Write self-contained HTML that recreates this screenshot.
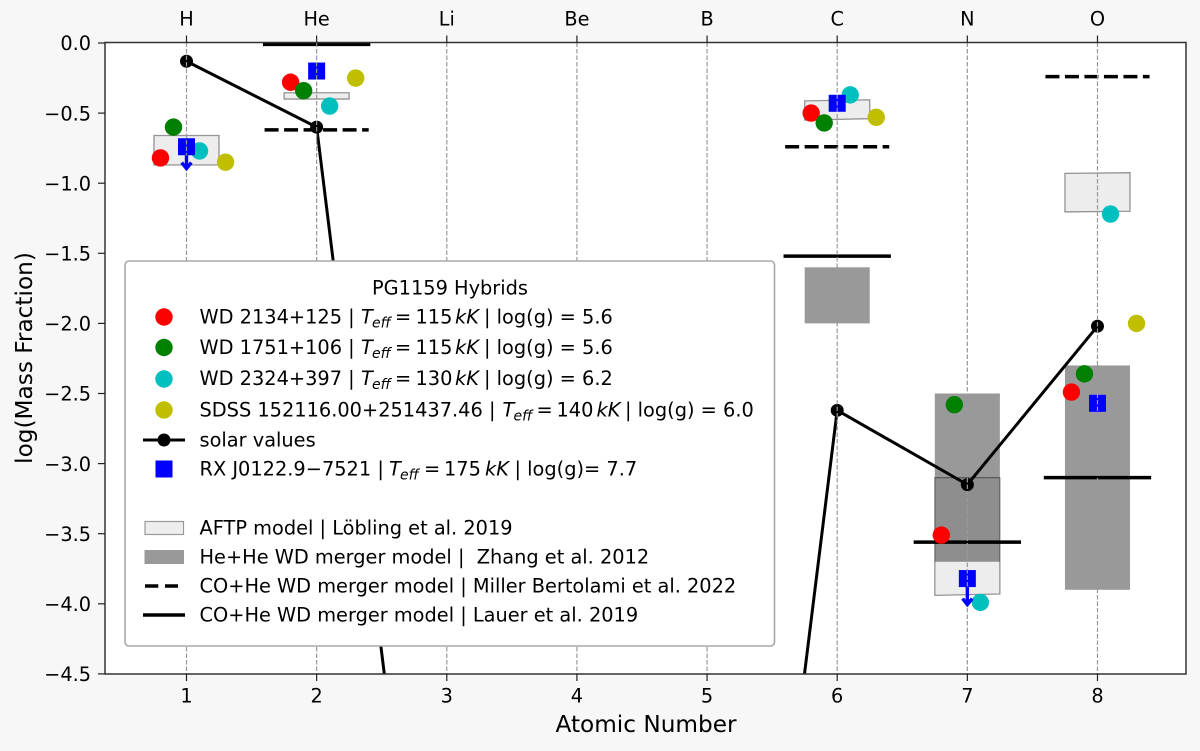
<!DOCTYPE html>
<html lang="en">
<head>
<meta charset="utf-8">
<title>PG1159 Hybrids abundance chart</title>
<style>
html,body{margin:0;padding:0;background:#f7f7f7;width:1200px;height:751px;overflow:hidden;}
svg{display:block;font-family:"DejaVu Sans","Liberation Sans",sans-serif;fill:#000;}
.tick{font-size:19.3px;}
.lg{font-size:19.35px;}
.it{font-style:italic;}
.sub{font-size:14px;font-style:italic;}
</style>
</head>
<body>
<svg id="chart" width="1200" height="751" viewBox="0 0 1200 751" xmlns="http://www.w3.org/2000/svg">
  <defs><clipPath id="plot-clip"><rect x="105" y="42.5" width="1081" height="631.5"/></clipPath></defs>
  <rect x="0" y="0" width="1200" height="751" fill="#f7f7f7"/>
  <rect x="105" y="42.5" width="1081" height="631.5" fill="#fff"/>
  <g id="marks" clip-path="url(#plot-clip)"></g>
  <g id="axes"></g>
  <text x="646" y="732" font-size="23.2" text-anchor="middle">Atomic Number</text>
  <text transform="translate(32 358) rotate(-90)" font-size="23.2" text-anchor="middle">log(Mass Fraction)</text>

  <g>
    <rect x="125" y="261" width="649.5" height="385" rx="4" fill="#fff" stroke="#a8a8a8" stroke-width="1.6"/>
    <text class="lg" x="450" y="294.5" text-anchor="middle">PG1159 Hybrids</text>

    <g>
      <circle cx="164" cy="317" r="8.7" fill="#f00"/>
      <text class="lg" x="199.5" y="323.5">WD 2134+125 |</text>
      <text class="lg it" x="361" y="323.5">T</text><text class="sub" x="372" y="327.5">eff</text>
      <text class="lg" x="395" y="323.5">=</text><text class="lg" x="415.5" y="323.5">115</text>
      <text class="lg it" x="455" y="323.5">kK</text><text class="lg" x="484" y="323.5">| log(g) = 5.6</text>
    </g>
    <g>
      <circle cx="164" cy="347.5" r="8.7" fill="#008000"/>
      <text class="lg" x="199.5" y="354">WD 1751+106 |</text>
      <text class="lg it" x="361" y="354">T</text><text class="sub" x="372" y="358">eff</text>
      <text class="lg" x="395" y="354">=</text><text class="lg" x="415.5" y="354">115</text>
      <text class="lg it" x="455" y="354">kK</text><text class="lg" x="484" y="354">| log(g) = 5.6</text>
    </g>
    <g>
      <circle cx="164" cy="379" r="8.7" fill="#00bfbf"/>
      <text class="lg" x="199.5" y="385">WD 2324+397 |</text>
      <text class="lg it" x="361" y="385">T</text><text class="sub" x="372" y="389">eff</text>
      <text class="lg" x="395" y="385">=</text><text class="lg" x="415.5" y="385">130</text>
      <text class="lg it" x="455" y="385">kK</text><text class="lg" x="484" y="385">| log(g) = 6.2</text>
    </g>
    <g>
      <circle cx="164" cy="410" r="8.7" fill="#bfbf00"/>
      <text class="lg" x="199.5" y="416.5">SDSS 152116.00+251437.46 |</text>
      <text class="lg it" x="502.5" y="416.5">T</text><text class="sub" x="513.5" y="420.5">eff</text>
      <text class="lg" x="536.5" y="416.5">=</text><text class="lg" x="556.5" y="416.5">140</text>
      <text class="lg it" x="596.5" y="416.5">kK</text><text class="lg" x="625" y="416.5">| log(g) = 6.0</text>
    </g>
    <g>
      <line x1="143" y1="440" x2="185" y2="440" stroke="#000" stroke-width="3"/>
      <circle cx="164" cy="440" r="6.5" fill="#000"/>
      <text class="lg" x="199.5" y="446.5">solar values</text>
    </g>
    <g>
      <rect x="155.5" y="460.5" width="17" height="17" fill="#00f"/>
      <text class="lg" x="199.5" y="475.5">RX J0122.9−7521 |</text>
      <text class="lg it" x="389" y="475.5">T</text><text class="sub" x="400" y="479.5">eff</text>
      <text class="lg" x="424" y="475.5">=</text><text class="lg" x="444" y="475.5">175</text>
      <text class="lg it" x="485" y="475.5">kK</text><text class="lg" x="514.5" y="475.5">| log(g)= 7.7</text>
    </g>
    <g>
      <rect x="145" y="521.5" width="38.5" height="13" fill="#eee" stroke="#999" stroke-width="1.2"/>
      <text class="lg" x="199.5" y="534.5">AFTP model | Löbling et al. 2019</text>
    </g>
    <g>
      <rect x="144.5" y="550" width="39.5" height="14" fill="#999"/>
      <text class="lg" x="199.5" y="563.5">He+He WD merger model |&#160; Zhang et al. 2012</text>
    </g>
    <g>
      <line x1="145" y1="586" x2="178" y2="586" stroke="#000" stroke-width="3.5" stroke-dasharray="13.3 6.7"/>
      <text class="lg" x="199.5" y="592.5">CO+He WD merger model | Miller Bertolami et al. 2022</text>
    </g>
    <g>
      <line x1="143" y1="615" x2="185" y2="615" stroke="#000" stroke-width="3.5"/>
      <text class="lg" x="199.5" y="621.5">CO+He WD merger model | Lauer et al. 2019</text>
    </g>
  </g>
</svg>
<script>
// ---- data ----
const atomicNumbers = [1, 2, 3, 4, 5, 6, 7, 8];
const elementLabels = ['H', 'He', 'Li', 'Be', 'B', 'C', 'N', 'O'];
const yTicks = [0, -0.5, -1, -1.5, -2, -2.5, -3, -3.5, -4, -4.5];
const yTickLabels = ['0.0', '−0.5', '−1.0', '−1.5', '−2.0', '−2.5', '−3.0', '−3.5', '−4.0', '−4.5'];

const solarValues = [-0.13, -0.6, -8.1, -9.8, -10.1, -2.62, -3.15, -2.02];

const redX = [0.8, 1.8, 5.8, 6.8, 7.8];
const redY = [-0.82, -0.28, -0.5, -3.51, -2.49];
const greenX = [0.9, 1.9, 5.9, 6.9, 7.9];
const greenY = [-0.6, -0.34, -0.57, -2.58, -2.36];
const cyanX = [1.1, 2.1, 6.1, 7.1, 8.1];
const cyanY = [-0.77, -0.45, -0.37, -3.99, -1.22];
const yellowX = [1.3, 2.3, 6.3, 8.3];
const yellowY = [-0.85, -0.25, -0.53, -2.0];
const blueX = [1, 2, 6, 7, 8];
const blueY = [-0.74, -0.2, -0.43, -3.82, -2.57];
const upperLimitX = [1, 7];
const upperLimitFrom = [-0.74, -3.82];
const upperLimitTo = [-0.91, -4.02];

const aftpZ = [1, 2, 6, 7, 8];
const aftpTopLeft = [-0.66, -0.355, -0.413, -3.1, -0.93];
const aftpTopRight = [-0.66, -0.355, -0.405, -3.1, -0.925];
const aftpBottomLeft = [-0.87, -0.4, -0.55, -3.94, -1.205];
const aftpBottomRight = [-0.87, -0.4, -0.54, -3.93, -1.2];

const mergerZ = [6, 7, 8];
const mergerTop = [-1.6, -2.5, -2.3];
const mergerBottom = [-2.0, -3.7, -3.9];

const millerZ = [2, 6, 8];
const millerValues = [-0.62, -0.74, -0.24];
const lauerZ = [2, 6, 7, 8];
const lauerValues = [-0.01, -1.52, -3.56, -3.1];

// ---- axis functions ----
const Y_MIN = -4.5;
const xScale = function (v) { return 186.5 + (v - 1) * 130.14; };
const yScale = function (v) { return 43 + (0 - v) * 140.2; };

const NS = 'http://www.w3.org/2000/svg';
function make(parent, tag, attrs) {
  const el = document.createElementNS(NS, tag);
  Object.keys(attrs).forEach(function (k) { el.setAttribute(k, attrs[k]); });
  parent.appendChild(el);
  return el;
}
const marks = document.getElementById('marks');
const axes = document.getElementById('axes');

// merger boxes
mergerZ.forEach(function (z, i) {
  const el = make(marks, 'rect', {
    x: xScale(z - 0.25), y: yScale(mergerTop[i]), width: xScale(z + 0.25) - xScale(z - 0.25),
    height: yScale(mergerBottom[i]) - yScale(mergerTop[i]), fill: '#000', 'fill-opacity': 0.4
  });
  
  
});

// AFTP boxes
aftpZ.forEach(function (z, i) {
  const l = xScale(z - 0.25), r = xScale(z + 0.25);
  const pts = [[l, yScale(aftpTopLeft[i])], [r, yScale(aftpTopRight[i])], [r, yScale(aftpBottomRight[i])], [l, yScale(aftpBottomLeft[i])]];
  const el = make(marks, 'polygon', {
    points: pts.map(function (p) { return p.join(','); }).join(' '),
    fill: '#000', 'fill-opacity': 0.07, stroke: '#000', 'stroke-opacity': 0.4, 'stroke-width': 1.3
  });
  
  
});

// model level lines
millerZ.forEach(function (z, i) {
  const el = make(marks, 'line', {
    x1: xScale(z - 0.4), x2: xScale(z + 0.4), y1: yScale(millerValues[i]), y2: yScale(millerValues[i]),
    stroke: '#000', 'stroke-width': 3.5, 'stroke-dasharray': '14 5.5'
  });
  
  
});
lauerZ.forEach(function (z, i) {
  const el = make(marks, 'line', {
    x1: xScale(z - 0.4125), x2: xScale(z + 0.4125), y1: yScale(lauerValues[i]), y2: yScale(lauerValues[i]),
    stroke: '#000', 'stroke-width': 3.5
  });
  
  
});

// solar line: each segment is cut at the bottom of the axis so nothing leaves the plot
atomicNumbers.slice(1).forEach(function (z, k) {
  let x0 = atomicNumbers[k], y0 = solarValues[k], x1 = z, y1 = solarValues[k + 1];
  if (y0 < Y_MIN && y1 < Y_MIN) { return; }
  if (y0 < Y_MIN) { x0 = x0 + (x1 - x0) * (Y_MIN - y0) / (y1 - y0); y0 = Y_MIN; }
  if (y1 < Y_MIN) { x1 = x0 + (x1 - x0) * (Y_MIN - y0) / (y1 - y0); y1 = Y_MIN; }
  const seg = make(marks, 'line', {
    x1: xScale(x0), y1: yScale(y0), x2: xScale(x1), y2: yScale(y1),
    stroke: '#000', 'stroke-width': 3, 'stroke-linecap': 'round'
  });
  
  
});
atomicNumbers.forEach(function (z, i) {
  if (solarValues[i] < Y_MIN) { return; }
  const el = make(marks, 'circle', { cx: xScale(z), cy: yScale(solarValues[i]), r: 6.5, fill: '#000' });
  
  
});

// star scatter series
function circles(xs, ys, color, name) {
  xs.forEach(function (x, i) {
    const el = make(marks, 'circle', { cx: xScale(x), cy: yScale(ys[i]), r: 8.7, fill: color });
    
    
  });
}
circles(redX, redY, '#f00', 'wd2134');
circles(greenX, greenY, '#008000', 'wd1751');
circles(cyanX, cyanY, '#00bfbf', 'wd2324');
circles(yellowX, yellowY, '#bfbf00', 'sdss');

// RX J0122 squares
blueX.forEach(function (x, i) {
  const el = make(marks, 'rect', { x: xScale(x) - 8.5, y: yScale(blueY[i]) - 8.5, width: 17, height: 17, fill: '#00f' });
  
  
});

// vertical guide lines on top of the markers
atomicNumbers.forEach(function (z, i) {
  const el = make(marks, 'line', {
    x1: xScale(z), x2: xScale(z), y1: 42.5, y2: 674,
    stroke: '#999', 'stroke-width': 1.2, 'stroke-dasharray': '4.5 2'
  });
  
  
});

// upper limit arrows
upperLimitX.forEach(function (x, i) {
  const cx = xScale(x), y0 = yScale(upperLimitFrom[i]) + 8.5, y1 = yScale(upperLimitTo[i]);
  const shaft = make(marks, 'line', { x1: cx, x2: cx, y1: y0, y2: y1 - 2, stroke: '#00f', 'stroke-width': 3.4 });
  
  
  const head = make(marks, 'polyline', {
    points: (cx - 4.8) + ',' + (y1 - 8) + ' ' + cx + ',' + (y1 - 2) + ' ' + (cx + 4.8) + ',' + (y1 - 8),
    fill: 'none', stroke: '#00f', 'stroke-width': 3.4
  });
  
  
});

// frame
const frame = make(axes, 'rect', { x: 105, y: 42.5, width: 1081, height: 631.5, fill: 'none', stroke: '#333', 'stroke-width': 1.5 });



// x ticks: bottom numbers, top element symbols
atomicNumbers.forEach(function (z, i) {
  const x = xScale(z);
  const t1 = make(axes, 'line', { x1: x, x2: x, y1: 674, y2: 681, stroke: '#222', 'stroke-width': 1.2 });
  
  
  const t2 = make(axes, 'line', { x1: x, x2: x, y1: 35.5, y2: 42.5, stroke: '#222', 'stroke-width': 1.2 });
  
  
  const l1 = make(axes, 'text', { x: x, y: 702.5, 'text-anchor': 'middle', class: 'tick' });
  l1.textContent = String(z);
  
  
  const l2 = make(axes, 'text', { x: x, y: 25.7, 'text-anchor': 'middle', class: 'tick' });
  l2.textContent = elementLabels[i];
  
  
});

// y ticks
yTicks.forEach(function (v, i) {
  const y = yScale(v);
  const t = make(axes, 'line', { x1: 98, x2: 105, y1: y, y2: y, stroke: '#222', 'stroke-width': 1.2 });
  
  
  const l = make(axes, 'text', { x: 91, y: y + 7.2, 'text-anchor': 'end', class: 'tick' });
  l.textContent = yTickLabels[i];
  
  
});
</script>
</body>
</html>
